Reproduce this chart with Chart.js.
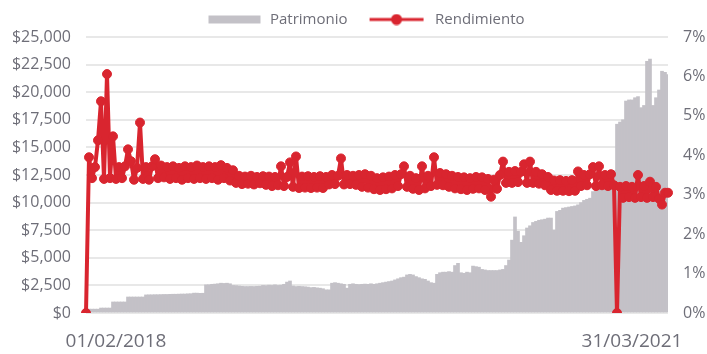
<!DOCTYPE html>
<html>
<head>
<meta charset="utf-8">
<script src="https://cdn.jsdelivr.net/npm/chart.js@4.4.1/dist/chart.umd.min.js"></script>
<style>
  html, body { margin: 0; padding: 0; background: #ffffff; }
  #wrap { width: 707px; height: 354px; }
</style>
</head>
<body>
<div id="wrap"><canvas id="chart" width="707" height="354"></canvas></div>
<script>
// Fund assets (USD) and yield (%) over the period
const patrimonio = [
  350,350,350,350,350,450,450,450,450,1000,
  1000,1000,1000,1000,1450,1450,1450,1450,1450,1450,
  1640,1650,1650,1660,1660,1670,1680,1680,1690,1700,
  1700,1710,1720,1720,1740,1750,1800,1800,1780,1790,
  2550,2560,2600,2620,2650,2700,2680,2700,2650,2500,
  2480,2450,2420,2400,2400,2410,2400,2420,2430,2500,
  2480,2520,2500,2550,2500,2520,2600,2800,2900,2450,
  2400,2420,2400,2380,2350,2300,2320,2280,2250,2200,
  2100,2100,2700,2750,2700,2650,2600,2250,2600,2650,
  2600,2580,2600,2620,2600,2650,2600,2650,2700,2750,
  2800,2850,2900,3000,3100,3200,3250,3450,3500,3450,
  3300,3200,3100,3050,2900,2750,2700,3500,3650,3700,
  3700,3750,3700,4300,4500,3650,3600,3700,3650,4250,
  4200,4150,3950,3900,3850,3850,3850,3850,3900,3950,
  4300,4800,6600,8700,7400,6400,7000,7700,7900,8200,
  8300,8400,8450,8500,8600,8600,7500,9200,9300,9500,
  9550,9600,9650,9700,9800,10000,10200,10300,10400,11000,
  11400,11600,12100,12300,12500,12700,12900,17100,17300,17500,
  19200,19300,19300,19500,19600,18600,18800,22800,23000,18800,
  19500,20200,21900,21800,21600
];

const rendimiento = [
  0,3.95,3.42,3.70,4.38,5.37,3.40,6.06,3.42,4.48,
  3.40,3.70,3.42,3.72,4.15,3.85,3.38,3.68,4.83,3.40,
  3.70,3.38,3.72,3.90,3.42,3.74,3.44,3.70,3.40,3.72,
  3.42,3.68,3.38,3.72,3.42,3.70,3.40,3.74,3.42,3.70,
  3.40,3.72,3.42,3.70,3.38,3.75,3.42,3.68,3.36,3.62,
  3.30,3.48,3.27,3.46,3.28,3.48,3.26,3.45,3.29,3.47,
  3.25,3.46,3.22,3.45,3.24,3.72,3.22,3.45,3.82,3.20,
  3.97,3.17,3.46,3.18,3.47,3.17,3.45,3.18,3.47,3.17,
  3.45,3.26,3.50,3.27,3.48,3.92,3.26,3.50,3.27,3.48,
  3.25,3.50,3.20,3.52,3.18,3.48,3.14,3.42,3.12,3.44,
  3.14,3.46,3.16,3.50,3.22,3.52,3.72,3.20,3.48,3.15,
  3.42,3.12,3.72,3.16,3.48,3.22,3.95,3.25,3.55,3.24,
  3.52,3.20,3.48,3.16,3.45,3.14,3.44,3.12,3.42,3.15,
  3.45,3.16,3.44,3.12,3.40,2.95,3.38,3.15,3.50,3.84,
  3.30,3.58,3.30,3.60,3.32,3.58,3.77,3.30,3.84,3.30,
  3.58,3.28,3.52,3.24,3.45,3.12,3.36,3.10,3.37,3.10,
  3.35,3.09,3.37,3.10,3.59,3.22,3.50,3.24,3.52,3.70,
  3.22,3.72,3.24,3.50,3.22,3.52,3.24,0,3.20,2.92,
  3.22,2.94,3.20,2.92,3.50,2.94,3.22,2.92,3.33,2.94,
  3.20,2.90,2.75,3.05,3.05
];

// Sequence number of each observation
const categories = patrimonio.map((_, i) => i + 1);

// Date labels shown under the axis, and the observations they sit under
const xTickLabels = ['01/02/2018', '31/03/2021'];
const xTickIndex = [10, 182];

const seriesNames = ['Patrimonio', 'Rendimiento'];

const GREY = '#c3c1c7';
const RED = '#d9252f';
const TEXT = '#6e6e78';

// Legend swatches: grey bar, and red line with a dot
function makeSwatch(kind) {
  const c = document.createElement('canvas');
  c.width = 70; c.height = 12;
  const g = c.getContext('2d');
  if (kind === 'bar') {
    g.fillStyle = GREY;
    g.fillRect(16, 2, 52, 8);
  } else {
    g.strokeStyle = RED;
    g.lineWidth = 3;
    g.beginPath(); g.moveTo(12, 6); g.lineTo(66, 6); g.stroke();
    g.fillStyle = RED;
    g.beginPath(); g.arc(39, 6, 5.5, 0, Math.PI * 2); g.fill();
  }
  return c;
}
const swatches = [makeSwatch('bar'), makeSwatch('line')];

new Chart(document.getElementById('chart'), {
  data: {
    labels: categories,
    datasets: [
      {
        type: 'bar',
        label: seriesNames[0],
        data: patrimonio,
        yAxisID: 'y',
        backgroundColor: GREY,
        borderWidth: 0,
        barPercentage: 1,
        categoryPercentage: 1,
        order: 2
      },
      {
        type: 'line',
        label: seriesNames[1],
        data: rendimiento,
        yAxisID: 'y1',
        borderColor: RED,
        backgroundColor: RED,
        borderWidth: 4,
        borderJoinStyle: 'round',
        tension: 0,
        pointRadius: 4.5,
        pointBorderWidth: 1,
        pointBackgroundColor: RED,
        pointBorderColor: RED,
        order: 1
      }
    ]
  },
  options: {
    responsive: false,
    animation: false,
    devicePixelRatio: 1,
    layout: { padding: { left: 12, right: 2, top: 2, bottom: 0 } },
    plugins: {
      tooltip: { enabled: false },
      legend: {
        position: 'top',
        labels: {
          usePointStyle: true,
          pointStyleWidth: 70,
          padding: 10,
          color: TEXT,
          font: { family: 'Open Sans', size: 15 },
          sort: (a, b) => a.datasetIndex - b.datasetIndex,
          generateLabels(chart) {
            const items = Chart.defaults.plugins.legend.labels.generateLabels(chart);
            items.forEach(it => { it.pointStyle = swatches[it.datasetIndex]; });
            return items;
          }
        }
      }
    },
    scales: {
      x: {
        offset: false,
        grid: { display: false, drawTicks: false },
        border: { display: false },
        afterFit(scale) { scale.height = 41; },
        ticks: {
          autoSkip: false,
          maxRotation: 0,
          padding: 17,
          color: TEXT,
          font: { family: 'Open Sans', size: 19 },
          callback(value, index) {
            const k = xTickIndex.indexOf(index);
            return k >= 0 ? xTickLabels[k] : null;
          }
        }
      },
      y: {
        position: 'left',
        min: 0,
        max: 25000,
        grid: { color: '#e8e8e8', lineWidth: 2, drawTicks: false },
        border: { display: false },
        afterFit(scale) { scale.width = 74; },
        ticks: {
          stepSize: 2500,
          padding: 15,
          color: TEXT,
          font: { family: 'Open Sans', size: 16 },
          callback: v => '$' + v.toLocaleString('en-US')
        }
      },
      y1: {
        position: 'right',
        min: 0,
        max: 7,
        grid: { display: false, drawTicks: false },
        border: { display: false },
        afterFit(scale) { scale.width = 37; },
        ticks: {
          stepSize: 1,
          padding: 15,
          color: TEXT,
          font: { family: 'Open Sans', size: 16 },
          callback: v => v + '%'
        }
      }
    }
  }
});
</script>
</body>
</html>
